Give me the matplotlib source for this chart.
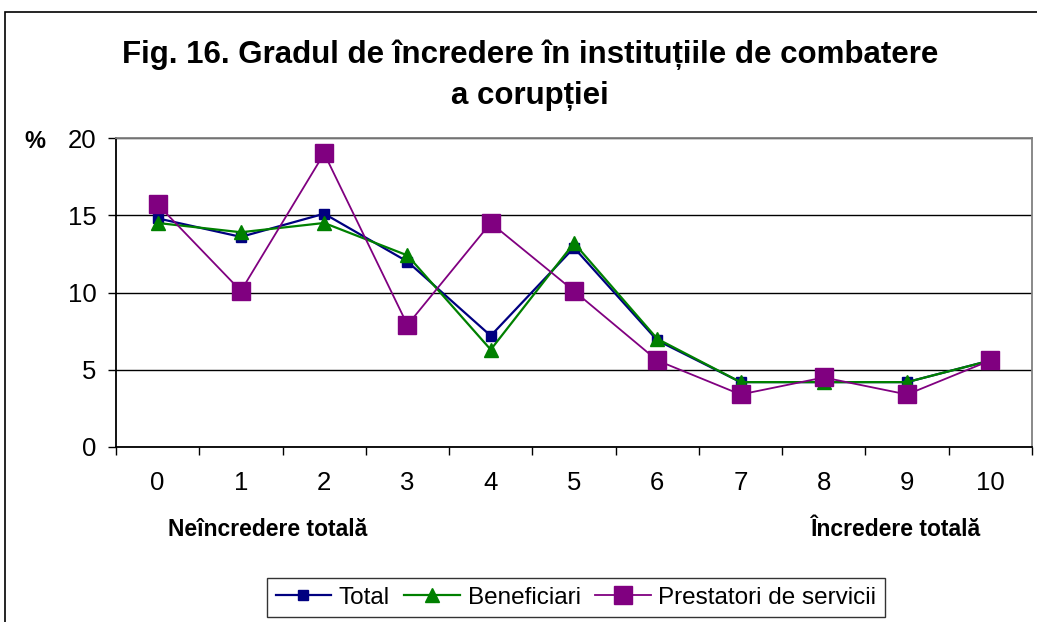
import matplotlib.pyplot as plt
from matplotlib.patches import Rectangle

plt.rcParams['font.family'] = ['Liberation Sans', 'DejaVu Sans']

# scores on the 0..10 confidence scale
categories = list(range(11))
total = [14.8, 13.6, 15.1, 12.0, 7.2, 12.9, 6.9, 4.2, 4.2, 4.2, 5.6]
beneficiari = [14.5, 13.9, 14.5, 12.4, 6.3, 13.2, 7.0, 4.2, 4.2, 4.2, 5.6]
prestatori = [15.7, 10.1, 19.0, 7.9, 14.5, 10.1, 5.6, 3.4, 4.5, 3.4, 5.6]
series_names = ["Total", "Beneficiari", "Prestatori de servicii"]
yticks = [0, 5, 10, 15, 20]

W, H = 1037, 622
fig = plt.figure(figsize=(W / 100, H / 100), dpi=100)
fig.patch.set_facecolor("white")

# outer border of the chart object (cut on right and bottom)
fig.patches.append(Rectangle((5 / W, -0.1), 1.2, 1 - 12 / H + 0.1, transform=fig.transFigure,
                             fill=False, edgecolor="black", linewidth=1.2))

ax = fig.add_axes([116 / W, 1 - 447 / H, (1032 - 116) / W, (447 - 138) / H])

ax.plot(categories, total, color="#000080", linewidth=1.6, marker="s", markersize=7.5,
        label=series_names[0], zorder=3)
ax.plot(categories, beneficiari, color="#008000", linewidth=1.6, marker="^", markersize=10,
        label=series_names[1], zorder=4)
ax.plot(categories, prestatori, color="#800080", linewidth=1.3, marker="s", markersize=13,
        label=series_names[2], zorder=5)

ax.set_xlim(-0.5, 10.5)
ax.set_ylim(0, 20)
ax.set_yticks(yticks)
ax.set_xticks(categories)
ax.set_xticks([c - 0.5 for c in categories] + [10.5], minor=True)
ax.tick_params(axis="x", which="major", length=0, pad=17, labelsize=18.5)
ax.tick_params(axis="x", which="minor", length=6, width=1, direction="out")
ax.tick_params(axis="y", length=6, width=1, direction="out", pad=8, labelsize=18.5)
ax.yaxis.grid(True, color="black", linewidth=1.0)
ax.set_axisbelow(True)
for side in ["left", "bottom"]:
    ax.spines[side].set_color("black")
    ax.spines[side].set_linewidth(1.3)
for side in ["top", "right"]:
    ax.spines[side].set_color("#808080")
    ax.spines[side].set_linewidth(1.3)

fig.text(530 / W, 1 - 55 / H, "Fig. 16. Gradul de încredere în instituțiile de combatere",
         ha="center", va="center", fontsize=22.5, fontweight="bold")
fig.text(530 / W, 1 - 96 / H, "a corupției", ha="center", va="center",
         fontsize=22.5, fontweight="bold")
fig.text(35 / W, 1 - 141 / H, "%", ha="center", va="center", fontsize=17, fontweight="bold")
fig.text(268 / W, 1 - 530 / H, "Neîncredere totală", ha="center", va="center",
         fontsize=16.5, fontweight="bold")
fig.text(896 / W, 1 - 530 / H, "Încredere totală", ha="center", va="center",
         fontsize=16.5, fontweight="bold")

leg = fig.legend(loc="upper left", bbox_to_anchor=(267 / W, 1 - 578 / H), ncol=3,
                 fontsize=17.5, frameon=True, fancybox=False, edgecolor="black",
                 handlelength=2.3, handletextpad=0.3, columnspacing=0.6,
                 borderpad=0.35, borderaxespad=0)
leg.get_frame().set_linewidth(1.0)

fig.savefig("out.png", dpi=100)
